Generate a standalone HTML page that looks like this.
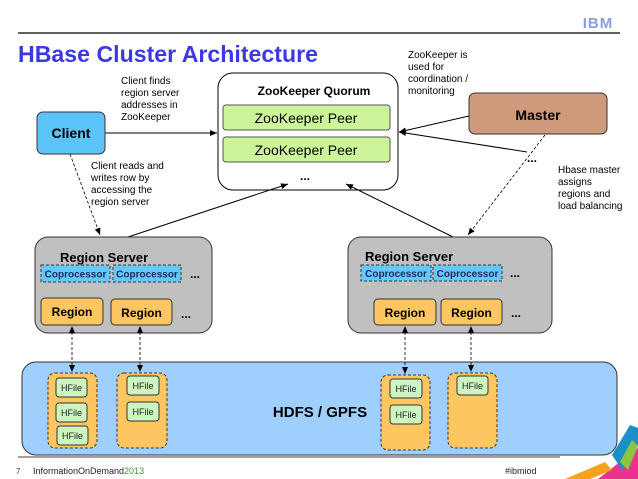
<!DOCTYPE html>
<html><head><meta charset="utf-8"><style>
html,body{margin:0;padding:0;background:#fff;}
svg{display:block;font-family:"Liberation Sans",Arial,sans-serif;}
</style></head><body>
<svg width="638" height="479" viewBox="0 0 638 479" xmlns="http://www.w3.org/2000/svg">
<defs>
<marker id="a" markerWidth="8" markerHeight="8" refX="7" refY="4" orient="auto" markerUnits="userSpaceOnUse"><path d="M0,1 L7,4 L0,7 z" fill="#000"/></marker>
<marker id="s" markerWidth="8" markerHeight="8" refX="1" refY="4" orient="auto" markerUnits="userSpaceOnUse"><path d="M7,1 L0,4 L7,7 z" fill="#000"/></marker>
</defs>
<!-- header -->
<text x="598" y="28" font-size="15" font-weight="bold" fill="#8a9ee6" text-anchor="middle" letter-spacing="1">IBM</text>
<line x1="18" y1="33" x2="620" y2="33" stroke="#000" stroke-width="1.2"/>
<text x="18" y="62" font-size="23" font-weight="bold" fill="#3a3ae0" textLength="300" lengthAdjust="spacingAndGlyphs">HBase Cluster Architecture</text>
<!-- annotations -->
<g font-size="10" fill="#000">
<text x="121" y="84">Client finds</text><text x="121" y="96">region server</text><text x="121" y="108">addresses in</text><text x="121" y="120">ZooKeeper</text>
<text x="408" y="58">ZooKeeper is</text><text x="408" y="70">used for</text><text x="408" y="82">coordination /</text><text x="408" y="94">monitoring</text>
<text x="91" y="169">Client reads and</text><text x="91" y="181">writes row by</text><text x="91" y="193">accessing the</text><text x="91" y="205">region server</text>
<text x="558" y="173">Hbase master</text><text x="558" y="185">assigns</text><text x="558" y="197">regions and</text><text x="558" y="209">load balancing</text>
</g>
<!-- zookeeper -->
<rect x="218" y="73" width="180" height="117" rx="15" fill="#fff" stroke="#000"/>
<text x="314" y="95" font-size="12" font-weight="bold" text-anchor="middle">ZooKeeper Quorum</text>
<rect x="223" y="105" width="167" height="25" rx="3" fill="#ccf59a" stroke="#555"/>
<text x="306" y="123" font-size="14" text-anchor="middle">ZooKeeper Peer</text>
<rect x="223" y="137" width="167" height="25" rx="3" fill="#ccf59a" stroke="#555"/>
<text x="306" y="155" font-size="14" text-anchor="middle">ZooKeeper Peer</text>
<text x="300" y="180" font-size="12" font-weight="bold">...</text>
<!-- connectors -->
<line x1="105" y1="133" x2="217" y2="133" stroke="#000" marker-end="url(#a)"/>
<line x1="469" y1="116" x2="399" y2="132" stroke="#000" marker-end="url(#a)"/>
<line x1="527" y1="152" x2="399" y2="132" stroke="#000" marker-end="url(#a)"/>
<text x="527" y="162" font-size="12" font-weight="bold">...</text>
<line x1="545" y1="135" x2="468" y2="235" stroke="#000" stroke-dasharray="3,2" stroke-width="0.8" marker-end="url(#a)"/>
<line x1="70" y1="154" x2="100" y2="235" stroke="#000" stroke-dasharray="3,2" stroke-width="0.8" marker-end="url(#a)"/>
<line x1="125" y1="238" x2="288" y2="184" stroke="#000" marker-end="url(#a)"/>
<line x1="455" y1="238" x2="346" y2="184" stroke="#000" marker-end="url(#a)"/>
<!-- client / master -->
<rect x="37" y="112" width="68" height="42" rx="6" fill="#5bc3f8" stroke="#333"/>
<text x="71" y="138" font-size="14" font-weight="bold" text-anchor="middle">Client</text>
<rect x="469" y="93" width="138" height="41" rx="6" fill="#cf9a7c" stroke="#333"/>
<text x="538" y="120" font-size="14" font-weight="bold" text-anchor="middle">Master</text>
<!-- region servers -->
<rect x="35" y="237" width="177" height="96" rx="13" fill="#c0c0c0" stroke="#333"/>
<text x="60" y="262" font-size="13" font-weight="bold">Region Server</text>
<g font-size="10" font-weight="bold" fill="#1a2a5a">
<rect x="41" y="265" width="69" height="17" fill="#66c8f8" stroke="#333" stroke-dasharray="3,2"/><text x="75.5" y="277.5" text-anchor="middle">Coprocessor</text>
<rect x="113" y="265" width="68" height="17" fill="#66c8f8" stroke="#333" stroke-dasharray="3,2"/><text x="147" y="277.5" text-anchor="middle">Coprocessor</text>
</g>
<text x="190" y="278" font-size="12" font-weight="bold">...</text>
<rect x="41" y="298" width="62" height="27" rx="4" fill="#fdc661" stroke="#333"/><text x="72" y="316" font-size="12" font-weight="bold" text-anchor="middle">Region</text>
<rect x="111" y="299" width="61" height="26" rx="4" fill="#fdc661" stroke="#333"/><text x="141.5" y="317" font-size="12" font-weight="bold" text-anchor="middle">Region</text>
<text x="181" y="318" font-size="12" font-weight="bold">...</text>

<rect x="348" y="237" width="204" height="96" rx="13" fill="#c0c0c0" stroke="#333"/>
<text x="365" y="261" font-size="13" font-weight="bold">Region Server</text>
<g font-size="10" font-weight="bold" fill="#1a2a5a">
<rect x="361" y="265" width="70" height="16" fill="#66c8f8" stroke="#333" stroke-dasharray="3,2"/><text x="396" y="277" text-anchor="middle">Coprocessor</text>
<rect x="433" y="265" width="69" height="16" fill="#66c8f8" stroke="#333" stroke-dasharray="3,2"/><text x="467.5" y="277" text-anchor="middle">Coprocessor</text>
</g>
<text x="510" y="277" font-size="12" font-weight="bold">...</text>
<rect x="374" y="299" width="62" height="26" rx="4" fill="#fdc661" stroke="#333"/><text x="405" y="317" font-size="12" font-weight="bold" text-anchor="middle">Region</text>
<rect x="441" y="299" width="61" height="26" rx="4" fill="#fdc661" stroke="#333"/><text x="471.5" y="317" font-size="12" font-weight="bold" text-anchor="middle">Region</text>
<text x="511" y="317" font-size="12" font-weight="bold">...</text>
<!-- corner graphic -->
<polygon points="598,479 638,448 638,479" fill="#e8348c"/>
<polygon points="612,455 630,425 638,428 638,445 622,470" fill="#1a8fc8"/>
<polygon points="565,479 605,462 612,470 590,479" fill="#f7a21b"/>
<polygon points="620,462 632,440 638,446 628,470" fill="#8cc63f"/>
<!-- HDFS -->
<rect x="22" y="362" width="595" height="93" rx="14" fill="#9fd0fd" stroke="#333"/>
<text x="320" y="417" font-size="15" font-weight="bold" text-anchor="middle">HDFS / GPFS</text>
<g stroke="#333" stroke-dasharray="3,2" fill="#fdc661">
<rect x="48" y="373" width="49" height="75" rx="7"/>
<rect x="117" y="373" width="50" height="75" rx="7"/>
<rect x="381" y="375" width="49" height="75" rx="7"/>
<rect x="448" y="373" width="49" height="75" rx="7"/>
</g>
<g font-size="9" fill="#222">
<rect x="56" y="378" width="31" height="19" rx="3" fill="#ccf5c0" stroke="#333"/><text x="71.5" y="391" text-anchor="middle">HFile</text>
<rect x="56" y="403" width="31" height="19" rx="3" fill="#ccf5c0" stroke="#333"/><text x="71.5" y="416" text-anchor="middle">HFile</text>
<rect x="57" y="426" width="31" height="19" rx="3" fill="#ccf5c0" stroke="#333"/><text x="72.5" y="439" text-anchor="middle">HFile</text>
<rect x="127" y="376" width="32" height="19" rx="3" fill="#ccf5c0" stroke="#333"/><text x="143" y="389" text-anchor="middle">HFile</text>
<rect x="127" y="402" width="32" height="19" rx="3" fill="#ccf5c0" stroke="#333"/><text x="143" y="415" text-anchor="middle">HFile</text>
<rect x="390" y="379" width="32" height="19" rx="3" fill="#ccf5c0" stroke="#333"/><text x="406" y="392" text-anchor="middle">HFile</text>
<rect x="390" y="405" width="32" height="19" rx="3" fill="#ccf5c0" stroke="#333"/><text x="406" y="418" text-anchor="middle">HFile</text>
<rect x="457" y="376" width="31" height="19" rx="3" fill="#ccf5c0" stroke="#333"/><text x="472.5" y="389" text-anchor="middle">HFile</text>
</g>
<g stroke="#000" stroke-dasharray="3,2" stroke-width="0.8">
<line x1="72" y1="327" x2="72" y2="372" marker-start="url(#s)" marker-end="url(#a)"/>
<line x1="140" y1="327" x2="140" y2="372" marker-start="url(#s)" marker-end="url(#a)"/>
<line x1="405" y1="327" x2="405" y2="374" marker-start="url(#s)" marker-end="url(#a)"/>
<line x1="471" y1="327" x2="471" y2="372" marker-start="url(#s)" marker-end="url(#a)"/>
</g>
<!-- footer -->
<line x1="18" y1="457" x2="560" y2="457" stroke="#000" stroke-width="0.8"/>
<text x="16" y="474" font-size="8" fill="#333">7</text>
<text x="33" y="474" font-size="9" fill="#222">InformationOnDemand<tspan fill="#3a9a2a">2013</tspan></text>
<text x="505" y="474" font-size="9" fill="#222">#ibmiod</text>
</svg>
</body></html>
